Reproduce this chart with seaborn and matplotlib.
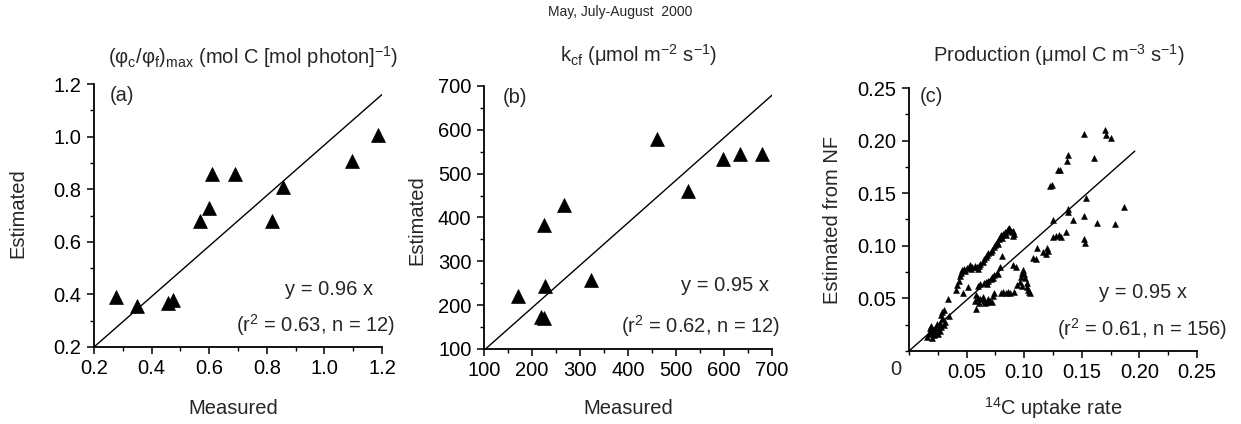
import matplotlib
matplotlib.use("Agg")
import matplotlib.pyplot as plt
from matplotlib.ticker import MultipleLocator, FixedLocator
import seaborn as sns
import pandas as pd

# ---------------- data ----------------
a_measured = [0.276, 0.348, 0.458, 0.475, 0.568, 0.598, 0.610, 0.690, 0.818, 0.857, 1.097, 1.185]
a_estimated = [0.389, 0.357, 0.366, 0.379, 0.680, 0.728, 0.859, 0.859, 0.680, 0.810, 0.906, 1.007]
a_line_x = [0.2, 1.2]
a_line_y = [0.2, 1.16]

b_measured = [170, 225, 227, 218, 224, 266, 322, 460, 525, 598, 634, 679]
b_estimated = [221, 384, 243, 172, 170, 429, 258, 580, 460, 534, 546, 546]
b_line_x = [100, 700]
b_line_y = [97, 679]

c_uptake = [
    # lower-left cluster
    0.016, 0.017, 0.018, 0.018, 0.019, 0.020, 0.020, 0.021, 0.022, 0.023, 0.023, 0.024, 0.025,
    0.025, 0.026, 0.027, 0.027, 0.028, 0.028, 0.029, 0.029, 0.030, 0.030, 0.031, 0.035, 0.034,
    # upper arm
    0.041, 0.042, 0.043, 0.044, 0.045, 0.046, 0.048, 0.049, 0.050, 0.052, 0.053, 0.054, 0.055,
    0.057, 0.059, 0.060, 0.061, 0.062, 0.064, 0.065, 0.067, 0.068, 0.069, 0.071, 0.072, 0.074,
    0.075, 0.076, 0.077, 0.078, 0.079, 0.080, 0.081, 0.082, 0.083, 0.084, 0.085, 0.086, 0.087,
    0.088, 0.089, 0.090, 0.091, 0.090,
    # lower loop
    0.058, 0.057, 0.058, 0.060, 0.061, 0.062, 0.064, 0.065, 0.066, 0.068, 0.069, 0.070, 0.072,
    0.073, 0.074, 0.060, 0.062, 0.065, 0.067, 0.068, 0.069, 0.071, 0.072, 0.073, 0.074, 0.076,
    0.077, 0.047, 0.051, 0.080, 0.082, 0.084, 0.086, 0.088, 0.091, 0.094, 0.096, 0.097, 0.098,
    0.099, 0.100, 0.101, 0.102, 0.102, 0.103, 0.104, 0.105, 0.098, 0.079, 0.081, 0.090, 0.093,
    # middle band
    0.108, 0.110, 0.111, 0.116, 0.119, 0.120, 0.121, 0.125, 0.125, 0.128, 0.130, 0.132, 0.136,
    0.138, 0.138, 0.142,
    # upper right
    0.122, 0.124, 0.129, 0.131, 0.137, 0.138, 0.152, 0.161, 0.170, 0.171, 0.175,
    # right scatter
    0.152, 0.154, 0.152, 0.153, 0.163, 0.179, 0.187,
]
c_estimated = [
    0.013, 0.016, 0.019, 0.022, 0.024, 0.012, 0.017, 0.020, 0.015, 0.018, 0.022, 0.026, 0.016,
    0.021, 0.024, 0.019, 0.027, 0.023, 0.034, 0.030, 0.037, 0.025, 0.039, 0.028, 0.033, 0.049,
    0.058, 0.063, 0.067, 0.071, 0.074, 0.077, 0.078, 0.076, 0.079, 0.080, 0.082, 0.078, 0.080,
    0.081, 0.080, 0.078, 0.081, 0.083, 0.085, 0.087, 0.089, 0.091, 0.093, 0.094, 0.096, 0.099,
    0.101, 0.104, 0.102, 0.106, 0.108, 0.110, 0.107, 0.111, 0.113, 0.110, 0.114, 0.116, 0.117,
    0.115, 0.113, 0.114, 0.111, 0.109,
    0.040, 0.048, 0.053, 0.050, 0.046, 0.049, 0.051, 0.048, 0.046, 0.047, 0.049, 0.048, 0.047,
    0.052, 0.055, 0.062, 0.064, 0.065, 0.066, 0.064, 0.067, 0.068, 0.070, 0.069, 0.072, 0.074,
    0.073, 0.055, 0.061, 0.055, 0.056, 0.055, 0.056, 0.055, 0.056, 0.063, 0.066, 0.070, 0.074,
    0.077, 0.073, 0.069, 0.065, 0.061, 0.058, 0.056, 0.055, 0.062, 0.080, 0.090, 0.082, 0.080,
    0.088, 0.087, 0.098, 0.094, 0.092, 0.098, 0.095, 0.108, 0.125, 0.109, 0.110, 0.108, 0.113,
    0.135, 0.132, 0.125,
    0.157, 0.158, 0.172, 0.172, 0.181, 0.186, 0.206, 0.183, 0.210, 0.205, 0.202,
    0.128, 0.145, 0.106, 0.103, 0.122, 0.121, 0.137,
]
c_line_x = [0.0, 0.196]
c_line_y = [0.0, 0.190]

main_title = "May, July-August  2000"
panel_titles = [
    r"(φ$_{\rm c}$/φ$_{\rm f}$)$_{\rm max}$ (mol C [mol photon]$^{-1}$)",
    r"k$_{\rm cf}$ (μmol m$^{-2}$ s$^{-1}$)",
    r"Production (μmol C m$^{-3}$ s$^{-1}$)",
]
panel_tags = ["(a)", "(b)", "(c)"]
fit_texts = ["y = 0.96 x", "y = 0.95 x", "y = 0.95 x"]
stat_texts = [r"(r$^{2}$ = 0.63, n = 12)", r"(r$^{2}$ = 0.62, n = 12)", r"(r$^{2}$ = 0.61, n = 156)"]
x_labels = ["Measured", "Measured", r"$^{14}$C uptake rate"]
y_labels = ["Estimated", "Estimated", "Estimated from NF"]

a_ticks = [0.2, 0.4, 0.6, 0.8, 1.0, 1.2]
a_ticklabels = ["0.2", "0.4", "0.6", "0.8", "1.0", "1.2"]
b_ticks = [100, 200, 300, 400, 500, 600, 700]
b_ticklabels = ["100", "200", "300", "400", "500", "600", "700"]
c_ticks = [0.05, 0.10, 0.15, 0.20, 0.25]
c_ticklabels = ["0.05", "0.10", "0.15", "0.20", "0.25"]

# ---------------- style ----------------
sns.set_style("ticks")
plt.rcParams["font.family"] = ["Liberation Sans", "DejaVu Sans"]
plt.rcParams["mathtext.fontset"] = "custom"
plt.rcParams["mathtext.rm"] = "Liberation Sans"
plt.rcParams["mathtext.it"] = "Liberation Sans:italic"
plt.rcParams["mathtext.bf"] = "Liberation Sans:bold"
FS = 14.5

W, H = 1241, 424
fig = plt.figure(figsize=(W / 100, H / 100), dpi=100)

def px_axes(left, top, right, bottom):
    return fig.add_axes([left / W, 1 - bottom / H, (right - left) / W, (bottom - top) / H])

ax_a = px_axes(94, 84, 382, 347)
ax_b = px_axes(484, 86, 772, 349)
ax_c = px_axes(909, 88, 1197, 351)
axes = [ax_a, ax_b, ax_c]

df_a = pd.DataFrame({"Measured": a_measured, "Estimated": a_estimated})
df_b = pd.DataFrame({"Measured": b_measured, "Estimated": b_estimated})
df_c = pd.DataFrame({"uptake": c_uptake, "est": c_estimated})

sns.scatterplot(data=df_a, x="Measured", y="Estimated", marker="^", s=100, color="black",
                edgecolor="black", linewidth=0.5, ax=ax_a, zorder=3, clip_on=False)
sns.lineplot(x=a_line_x, y=a_line_y, color="black", linewidth=1.0, ax=ax_a, sort=False, estimator=None)

sns.scatterplot(data=df_b, x="Measured", y="Estimated", marker="^", s=100, color="black",
                edgecolor="black", linewidth=0.5, ax=ax_b, zorder=3, clip_on=False)
sns.lineplot(x=b_line_x, y=b_line_y, color="black", linewidth=1.0, ax=ax_b, sort=False, estimator=None)

sns.scatterplot(data=df_c, x="uptake", y="est", marker="^", s=18, color="black",
                edgecolor="black", linewidth=0.4, ax=ax_c, zorder=3, clip_on=False)
sns.lineplot(x=c_line_x, y=c_line_y, color="black", linewidth=1.0, ax=ax_c, sort=False, estimator=None)

ax_a.set_xlim(0.2, 1.2); ax_a.set_ylim(0.2, 1.2)
ax_b.set_xlim(100, 700); ax_b.set_ylim(100, 700)
ax_c.set_xlim(0, 0.25); ax_c.set_ylim(0, 0.25)

ax_a.xaxis.set_major_locator(FixedLocator(a_ticks)); ax_a.set_xticklabels(a_ticklabels)
ax_a.yaxis.set_major_locator(FixedLocator(a_ticks)); ax_a.set_yticklabels(a_ticklabels)
ax_b.xaxis.set_major_locator(FixedLocator(b_ticks)); ax_b.set_xticklabels(b_ticklabels)
ax_b.yaxis.set_major_locator(FixedLocator(b_ticks)); ax_b.set_yticklabels(b_ticklabels)
ax_c.xaxis.set_major_locator(FixedLocator(c_ticks)); ax_c.set_xticklabels(c_ticklabels)
ax_c.yaxis.set_major_locator(FixedLocator(c_ticks)); ax_c.set_yticklabels(c_ticklabels)
for ax, m in zip(axes, [0.1, 50, 0.025]):
    ax.xaxis.set_minor_locator(MultipleLocator(m))
    ax.yaxis.set_minor_locator(MultipleLocator(m))

for ax in axes:
    sns.despine(ax=ax)
    for s in ["left", "bottom"]:
        ax.spines[s].set_linewidth(1.3)
        ax.spines[s].set_color("black")
    ax.tick_params(which="major", direction="out", length=5, width=1.1, labelsize=FS,
                   colors="black", pad=4)
    ax.tick_params(which="minor", direction="out", length=3, width=1.0, colors="black")
    ax.set_xlabel(""); ax.set_ylabel("")
    ax.set_facecolor("white")

# origin label in panel (c)
ax_c.text(-0.045, -0.072, "0", transform=ax_c.transAxes, ha="center", va="center", fontsize=FS)

tag_pos = [(0.056, 0.958), (0.066, 0.958), (0.038, 0.966)]
fit_pos = [(0.969, 0.217), (0.99, 0.243), (0.965, 0.224)]
stat_pos = [(1.045, 0.084), (1.028, 0.087), (1.104, 0.084)]
for ax, t, tp, f, fp, st, sp in zip(axes, panel_tags, tag_pos, fit_texts, fit_pos, stat_texts, stat_pos):
    ax.text(tp[0], tp[1], t, transform=ax.transAxes, ha="left", va="center", fontsize=FS)
    ax.text(fp[0], fp[1], f, transform=ax.transAxes, ha="right", va="center", fontsize=FS)
    ax.text(sp[0], sp[1], st, transform=ax.transAxes, ha="right", va="center", fontsize=FS)

def ftext(x, y, s, **kw):
    fig.text(x / W, 1 - y / H, s, **kw)

ftext(620, 12, main_title, ha="center", va="center", fontsize=10)
for (x, y), t in zip([(253, 57), (639, 55), (1059, 55)], panel_titles):
    ftext(x, y, t, ha="center", va="center", fontsize=FS)
for (x, y), t in zip([(233, 408), (628, 408), (1053, 408)], x_labels):
    ftext(x, y, t, ha="center", va="center", fontsize=FS)
for (x, y), t in zip([(18, 213), (417, 220), (832, 220)], y_labels):
    ftext(x, y, t, ha="center", va="center", fontsize=FS, rotation=90)

fig.savefig("out.png", dpi=100, facecolor="white")
